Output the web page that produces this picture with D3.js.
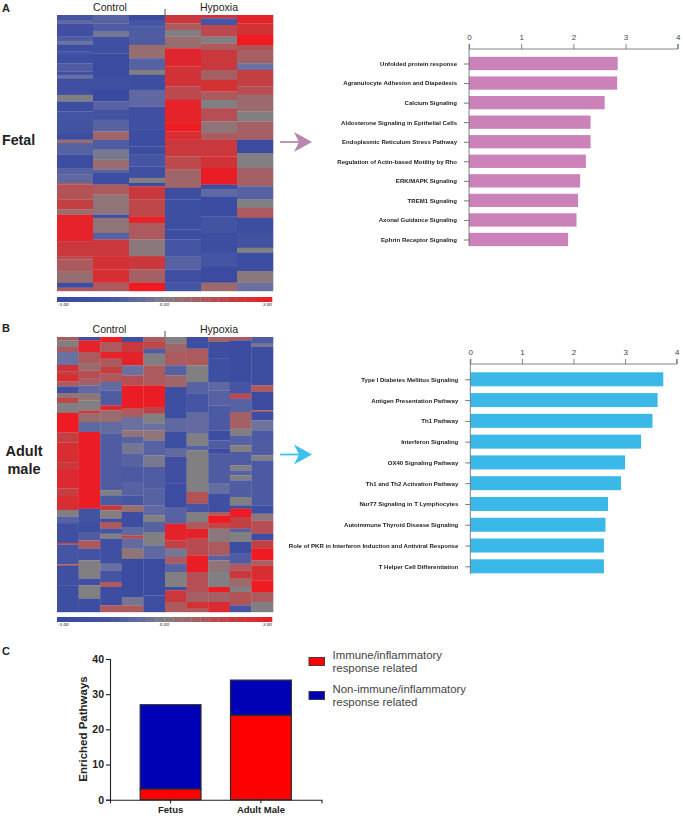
<!DOCTYPE html>
<html><head><meta charset="utf-8">
<script src="https://cdnjs.cloudflare.com/ajax/libs/d3/7.8.5/d3.min.js"></script>
<style>html,body{margin:0;padding:0;background:#fff}svg{display:block}text{font-family:"Liberation Sans",Arial,sans-serif}</style>
</head><body><div id="c"></div>
<script>
// Heatmap columns: run-length pairs [z-score, number of rows]
const fetalControl1=[[-1.5,3],[-0.8,2],[-2,8],[-1.2,3],[-0.5,2],[-2.4,4],[-1.5,2],[-2.2,5],[-1.2,5],[-2,2],[-0.5,2],[-2,10],[0,4],[-2.5,6],[-1.5,5],[-1.8,8],[-2.5,4],[0.5,2],[-1,7],[-2.4,8],[-1,4],[-0.8,5],[1,1],[1.2,9],[1.8,6],[0.5,3],[2.8,16],[2,9],[1.5,2],[1,7],[0.5,7],[-2.3,3],[1,2]];
const fetalControl2=[[-1,5],[-1.2,5],[-0.3,3],[-2,10],[-2.6,13],[-2,9],[-2.9,7],[-1,5],[-1.8,6],[-1,7],[0.7,5],[-1.2,6],[-0.2,6],[0.5,6],[-1,2],[-2.4,7],[1,6],[0.3,12],[-2,2],[0.3,9],[-1,4],[2,10],[2.3,8],[2.4,8],[1,5]];
const fetalControl3=[[-2.8,3],[-1.5,4],[-1.2,11],[0.5,8],[-1,7],[0,3],[-2.5,9],[-0.8,10],[-2,14],[-2.4,10],[-2.5,5],[-1.5,7],[-2,7],[0,3],[-2.6,2],[2,8],[1.6,10],[2.8,4],[1,10],[0.2,10],[2,8],[0.8,8],[3,5]];
const fetalHypoxia1=[[2,5],[1,4],[0,4],[0.5,7],[2.6,11],[2.2,12],[1.5,8],[2.8,14],[3,5],[2.4,5],[2,10],[1.5,8],[0.7,11],[-2.5,7],[-2.2,18],[-2.5,6],[-1.5,10],[-1,8],[-2,8],[-1.5,5]];
const fetalHypoxia2=[[2,2],[-1.5,4],[1.5,7],[0,4],[1,4],[2,12],[0.8,6],[2.3,7],[1,5],[0,5],[1.3,8],[0.3,7],[1,4],[2,10],[2.2,7],[2.9,10],[-2.5,3],[-0.8,4],[-2.6,12],[-1.8,10],[-2.5,12],[-1.5,8],[-2.6,10],[0.6,5]];
const fetalHypoxia3=[[2.7,5],[2.3,7],[3,6],[1.2,3],[0.8,8],[-0.5,4],[1.8,10],[1.3,5],[0.6,10],[0,6],[0.8,11],[-2.6,8],[0,9],[0.8,11],[-1,8],[0,5],[1,6],[-2.5,9],[-1.8,9],[0,3],[-2.4,11],[0.2,7],[-0.5,5]];
const adultControl1=[[1,2],[0,4],[1,3],[-0.5,8],[2.2,4],[1.8,2],[2.4,4],[1,3],[-2,4],[0.3,3],[1.6,3],[0,6],[3,12],[1.8,6],[2.4,12],[2,4],[2.5,12],[1.8,4],[2.4,9],[0,4],[-1,4],[-2,12],[1.4,1],[-1.5,12],[0.8,1],[-2,12],[-2.2,16]];
const adultControl2=[[-2,2],[2.8,7],[1,7],[0.5,4],[1.3,5],[0.8,4],[-0.7,5],[0.3,4],[0,6],[1.8,2],[0.5,5],[-0.8,6],[2.9,46],[-1.7,8],[-2.2,6],[-1.2,5],[1,5],[-1.8,7],[0,11],[-2,4],[0,8],[-2.4,8]];
const adultControl3=[[3,3],[1,6],[2.8,4],[1,5],[1.8,4],[1,5],[-0.7,5],[-1.2,9],[2.5,3],[0.5,7],[-0.7,7],[-1.2,34],[0,3],[-1.3,6],[2,3],[0,5],[-2,2],[1,4],[-1.5,3],[0,3],[-2,15],[-0.5,4],[-1.5,7],[1,3],[-2.3,11],[1,4]];
const adultControl4=[[-2,3],[2,6],[2.7,8],[-0.5,6],[1.3,6],[2.9,14],[1,5],[-0.5,8],[0.3,4],[-1,4],[-0.3,6],[-1,8],[-1.3,9],[-1,8],[-1.5,6],[0.5,4],[-2.4,9],[-0.8,5],[1.5,2],[-0.7,6],[0.3,6],[-2.6,23],[-0.3,5],[1,4]];
const adultControl5=[[1,3],[1.6,4],[-1.2,3],[0,7],[1,12],[2.9,13],[1.7,4],[0,6],[-0.5,4],[0.3,6],[-1,9],[-0.2,7],[-1.2,13],[-1,10],[-0.8,6],[0,4],[-1,6],[0,8],[-0.8,8],[-2.6,22],[-2,4],[-2.5,6]];
const adultHypoxia1=[[0,4],[0.7,5],[1,8],[-1,6],[0.7,7],[-2.2,19],[-0.8,8],[-2.2,10],[-0.7,5],[-2,16],[-2.4,14],[-1,10],[2.7,10],[1.7,5],[-0.3,5],[1,4],[-1,5],[0,9],[-2,2],[2,7],[1,6]];
const adultHypoxia2=[[-2.2,7],[1,10],[0,10],[-1,7],[-1.5,11],[-0.7,13],[0,7],[-1,3],[0,25],[1.2,7],[-1.5,5],[0,6],[1,4],[2.7,6],[1.4,10],[2.9,10],[1.3,12],[0.8,6],[2.3,4],[1,2]];
const adultHypoxia3=[[0.7,3],[-2.3,10],[-2.2,14],[-0.8,5],[-1,9],[-1.3,15],[-2.3,6],[-1.2,5],[-2.4,3],[-1.2,18],[-0.6,6],[-2,11],[0.8,2],[3,5],[1.6,3],[0.2,8],[1,8],[-1,3],[0.3,7],[0,9],[3,3],[0.8,6],[2.5,6]];
const adultHypoxia4=[[1,2],[-2.6,25],[-1.5,7],[1.5,3],[-1,8],[0.8,10],[0,4],[-1,6],[0,4],[-1.2,8],[0,3],[-1,3],[0,3],[-1.2,10],[0,5],[-2,2],[3,5],[1.8,7],[-1,2],[0,6],[-2.4,7],[-1.2,6],[1,4],[2,5],[0.6,5],[0,3],[1.2,8],[-1.5,4]];
const adultHypoxia5=[[-1.2,4],[-0.3,2],[-2.5,23],[1,4],[-2.6,11],[1,1],[-2.3,5],[-0.4,6],[-1.3,7],[-1.2,8],[0,3],[-1.3,27],[-2.2,5],[0.2,4],[1.3,8],[-2.4,4],[1.8,5],[3,7],[0.8,3],[2.4,9],[3,7],[1,6],[0,6]];
const fetalColumns=[fetalControl1,fetalControl2,fetalControl3,fetalHypoxia1,fetalHypoxia2,fetalHypoxia3];
const adultColumns=[adultControl1,adultControl2,adultControl3,adultControl4,adultControl5,adultHypoxia1,adultHypoxia2,adultHypoxia3,adultHypoxia4,adultHypoxia5];
const scaleLabels=["-3.00","0.00","3.00"];
const scaleTicks=[-3,0,3];

const fetalPathways=["Unfolded protein response","Agranulocyte Adhesion and Diapedesis","Calcium Signaling","Aldosterone Signaling in Epithelial Cells","Endoplasmic Reticulum Stress Pathway","Regulation of Actin-based Motility by Rho","ERK/MAPK Signaling","TREM1 Signaling","Axonal Guidance Signaling","Ephrin Receptor Signaling"];
const fetalValues=[2.85,2.84,2.60,2.33,2.33,2.24,2.13,2.09,2.06,1.90];
const adultPathways=["Type I Diabetes Mellitus Signaling","Antigen Presentation Pathway","Th1 Pathway","Interferon Signaling","OX40 Signaling Pathway","Th1 and Th2 Activation Pathway","Nur77 Signaling in T Lymphocytes","Autoimmune Thyroid Disease Signaling","Role of PKR in Interferon Induction and Antiviral Response","T Helper Cell Differentiation"];
const adultValues=[3.74,3.63,3.53,3.31,3.00,2.92,2.67,2.62,2.59,2.59];

const groups=["Fetus","Adult Male"];
const immuneCounts=[3,24];
const nonImmuneCounts=[24,10];
const legendLines=[["Immune/inflammatory","response related"],["Non-immune/inflammatory","response related"]];

const svg=d3.select("#c").append("svg").attr("width",683).attr("height",818);
const defs=svg.append("defs");
defs.append("filter").attr("id","soft").attr("x","-2%").attr("y","-2%").attr("width","104%").attr("height","104%")
  .append("feGaussianBlur").attr("stdDeviation","0.5 0.6");
defs.append("filter").attr("id","softText").attr("x","-5%").attr("y","-5%").attr("width","110%").attr("height","110%")
  .append("feGaussianBlur").attr("stdDeviation","0.25");
const color=d3.scaleLinear().domain([-3,-1.5,-0.5,0,1,2,3]).range(["#38499f","#4454a3","#6a709f","#827f82","#ad5a5e","#c8383c","#ee1c24"]).clamp(true);

function heatmap(cols,x0,x1,y0,y1,barTop){
  const g=svg.append("g").attr("filter","url(#soft)");
  const x=d3.scaleBand().domain(d3.range(cols.length)).range([x0,x1]);
  cols.forEach((c,i)=>{
    const total=d3.sum(c,d=>d[1]);
    const y=d3.scaleLinear().domain([0,total]).range([y0,y1]);
    let acc=0;
    const segs=c.map(d=>{const s={v:d[0],a:acc,b:acc+d[1]};acc+=d[1];return s;});
    g.selectAll(null).data(segs).join("rect")
      .attr("x",x(i)).attr("width",x.bandwidth()+0.3)
      .attr("y",d=>y(d.a)).attr("height",d=>y(d.b)-y(d.a)+0.2)
      .attr("fill",d=>color(d.v));
  });
  const s=d3.scaleLinear().domain([-3,3]).range([x0,x1-1]);
  const steps=d3.range(-3,3,0.25);
  svg.selectAll(null).data(steps).join("rect").attr("x",d=>s(d)).attr("width",d=>s(d+0.25)-s(d)+0.3)
    .attr("y",barTop).attr("height",5).attr("fill",d=>color(d+0.125));
  svg.selectAll(null).data(scaleTicks).join("text")
    .attr("x",(d,i)=>i==0?x0+1:i==1?s(d):x1-1).attr("y",barTop+9)
    .attr("text-anchor",(d,i)=>i==0?"start":i==1?"middle":"end")
    .attr("font-size",4.2).attr("font-style","italic").style("font-family","DejaVu Serif").attr("fill","#222")
    .text((d,i)=>scaleLabels[i]);
}
heatmap(fetalColumns,57,273,15,291,297);
heatmap(adultColumns,57,273,337,612,617);

function hbars(names,vals,col,x0,x4,axisY,yFirst,yLast,h,axisEnd){
  const x=d3.scaleLinear().domain([0,4]).range([x0,x4]);
  const y=d3.scalePoint().domain(names).range([yFirst,yLast]);
  svg.selectAll(null).data(vals).join("rect").attr("x",x0).attr("width",d=>x(d)-x0)
    .attr("y",(d,i)=>y(names[i])-h/2).attr("height",h).attr("fill",col);
  const ax=svg.append("g").attr("transform",`translate(0,${axisY})`).call(d3.axisTop(x).ticks(4).tickSize(5).tickPadding(4).tickFormat(d3.format("d")));
  ax.selectAll("path,line").attr("stroke","#666").attr("stroke-width",0.8);
  ax.select(".domain").attr("d",`M${x0},-5V0H${x4}V-5`);
  ax.selectAll("text").attr("font-size",8).attr("fill","#444").style("font-family","Liberation Sans");
  const ay=svg.append("g").attr("transform",`translate(${x0},0)`).call(d3.axisLeft(y).tickSize(5).tickPadding(7));
  ay.select(".domain").attr("d",`M0,${axisY}V${axisEnd}`).attr("stroke","#666").attr("stroke-width",0.8);
  ay.selectAll("line").attr("stroke","#555").attr("stroke-width",0.8);
  ay.selectAll("text").attr("font-size",6.05).attr("font-weight","bold").attr("fill","#222").attr("filter","url(#softText)").style("font-family","Liberation Sans");
}
hbars(fetalPathways,fetalValues,"#cb82b8",469,677.7,49,63.5,239.5,13.3,246);
hbars(adultPathways,adultValues,"#3ab8e8",470.3,676.7,364,379.3,566.3,14,574);

function arrow(yc,col){
  svg.append("line").attr("x1",280).attr("x2",300).attr("y1",yc).attr("y2",yc).attr("stroke",col).attr("stroke-width",1.8);
  svg.append("path").attr("d",`M312,${yc}L294,${yc-10}L299,${yc}L294,${yc+10}Z`).attr("fill",col);
}
arrow(142,"#b887ad");
arrow(454.5,"#3fc0ea");

function txt(t,x,y,size,opts={}){
  return svg.append("text").attr("x",x).attr("y",y).attr("font-size",size)
    .attr("font-weight",opts.bold?"bold":"normal").attr("text-anchor",opts.anchor||"start")
    .attr("fill",opts.fill||"#222").text(t);
}
txt("A",2,12,11,{bold:1});txt("B",2,332,11,{bold:1});txt("C",2,655,11,{bold:1});
txt("Fetal",2,144.5,14.2,{bold:1});
txt("Adult",24,456,14.5,{bold:1,anchor:"middle"});
txt("male",24,473.5,14.5,{bold:1,anchor:"middle"});
txt("Control",110,11,10.5,{anchor:"middle"});txt("Hypoxia",219,11,10.5,{anchor:"middle"});
txt("Control",109.5,333,10.5,{anchor:"middle"});txt("Hypoxia",219,333,10.5,{anchor:"middle"});
[[9,15],[331,337]].forEach(r=>svg.append("line").attr("x1",165).attr("x2",165).attr("y1",r[0]).attr("y2",r[1]).attr("stroke","#222").attr("stroke-width",0.8));

// Stacked bar panel
const yC=d3.scaleLinear().domain([0,40]).range([799.7,659]);
const xC=d3.scaleBand().domain(groups).range([110,321.5]).paddingInner(0.327).paddingOuter(0.334);
const stack=groups.map((g,i)=>({g,imm:immuneCounts[i],non:nonImmuneCounts[i]}));
const sw=1.2;
svg.selectAll(null).data(stack).join("rect").attr("x",d=>xC(d.g)).attr("width",xC.bandwidth())
  .attr("y",d=>yC(d.imm+d.non)).attr("height",d=>yC(d.imm)-yC(d.imm+d.non)).attr("fill","#0000b4").attr("stroke","#2a2a3a").attr("stroke-width",sw);
svg.selectAll(null).data(stack).join("rect").attr("x",d=>xC(d.g)).attr("width",xC.bandwidth())
  .attr("y",d=>yC(d.imm)).attr("height",d=>yC(0)-yC(d.imm)).attr("fill","#fe0000").attr("stroke","#2a2a2a").attr("stroke-width",sw);
const axY=svg.append("g").attr("transform","translate(110,0)").call(d3.axisLeft(yC).tickSize(4).tickPadding(2).tickValues([0,10,20,30,40]));
const axX=svg.append("g").attr("transform","translate(0,799.7)").call(d3.axisBottom(xC).tickSize(3.5).tickPadding(3));
[axY,axX].forEach(a=>{a.selectAll("path,line").attr("stroke","#222").attr("stroke-width",1.1);});
axY.selectAll("text").attr("font-size",10.5).attr("font-weight","bold").attr("fill","#222").style("font-family","Liberation Sans");
axX.selectAll("text").attr("font-size",9.5).attr("font-weight","bold").attr("fill","#222").style("font-family","Liberation Sans");
svg.append("text").attr("transform","translate(87,729) rotate(-90)").attr("text-anchor","middle").attr("font-size",11.5).attr("font-weight","bold").attr("fill","#222").text("Enriched Pathways");

const legendColors=["#fe0000","#0000b4"];
const legendY=d3.scalePoint().domain([0,1]).range([661.5,695.5]);
legendLines.forEach((ls,i)=>{
  svg.append("rect").attr("x",309).attr("y",legendY(i)-4).attr("width",15.5).attr("height",8).attr("fill",legendColors[i]).attr("stroke","#333").attr("stroke-width",0.9);
  ls.forEach((l,j)=>txt(l,332.5,legendY(i)-2.5+j*13.3,11.4,{fill:"#444"}));
});
</script></body></html>
